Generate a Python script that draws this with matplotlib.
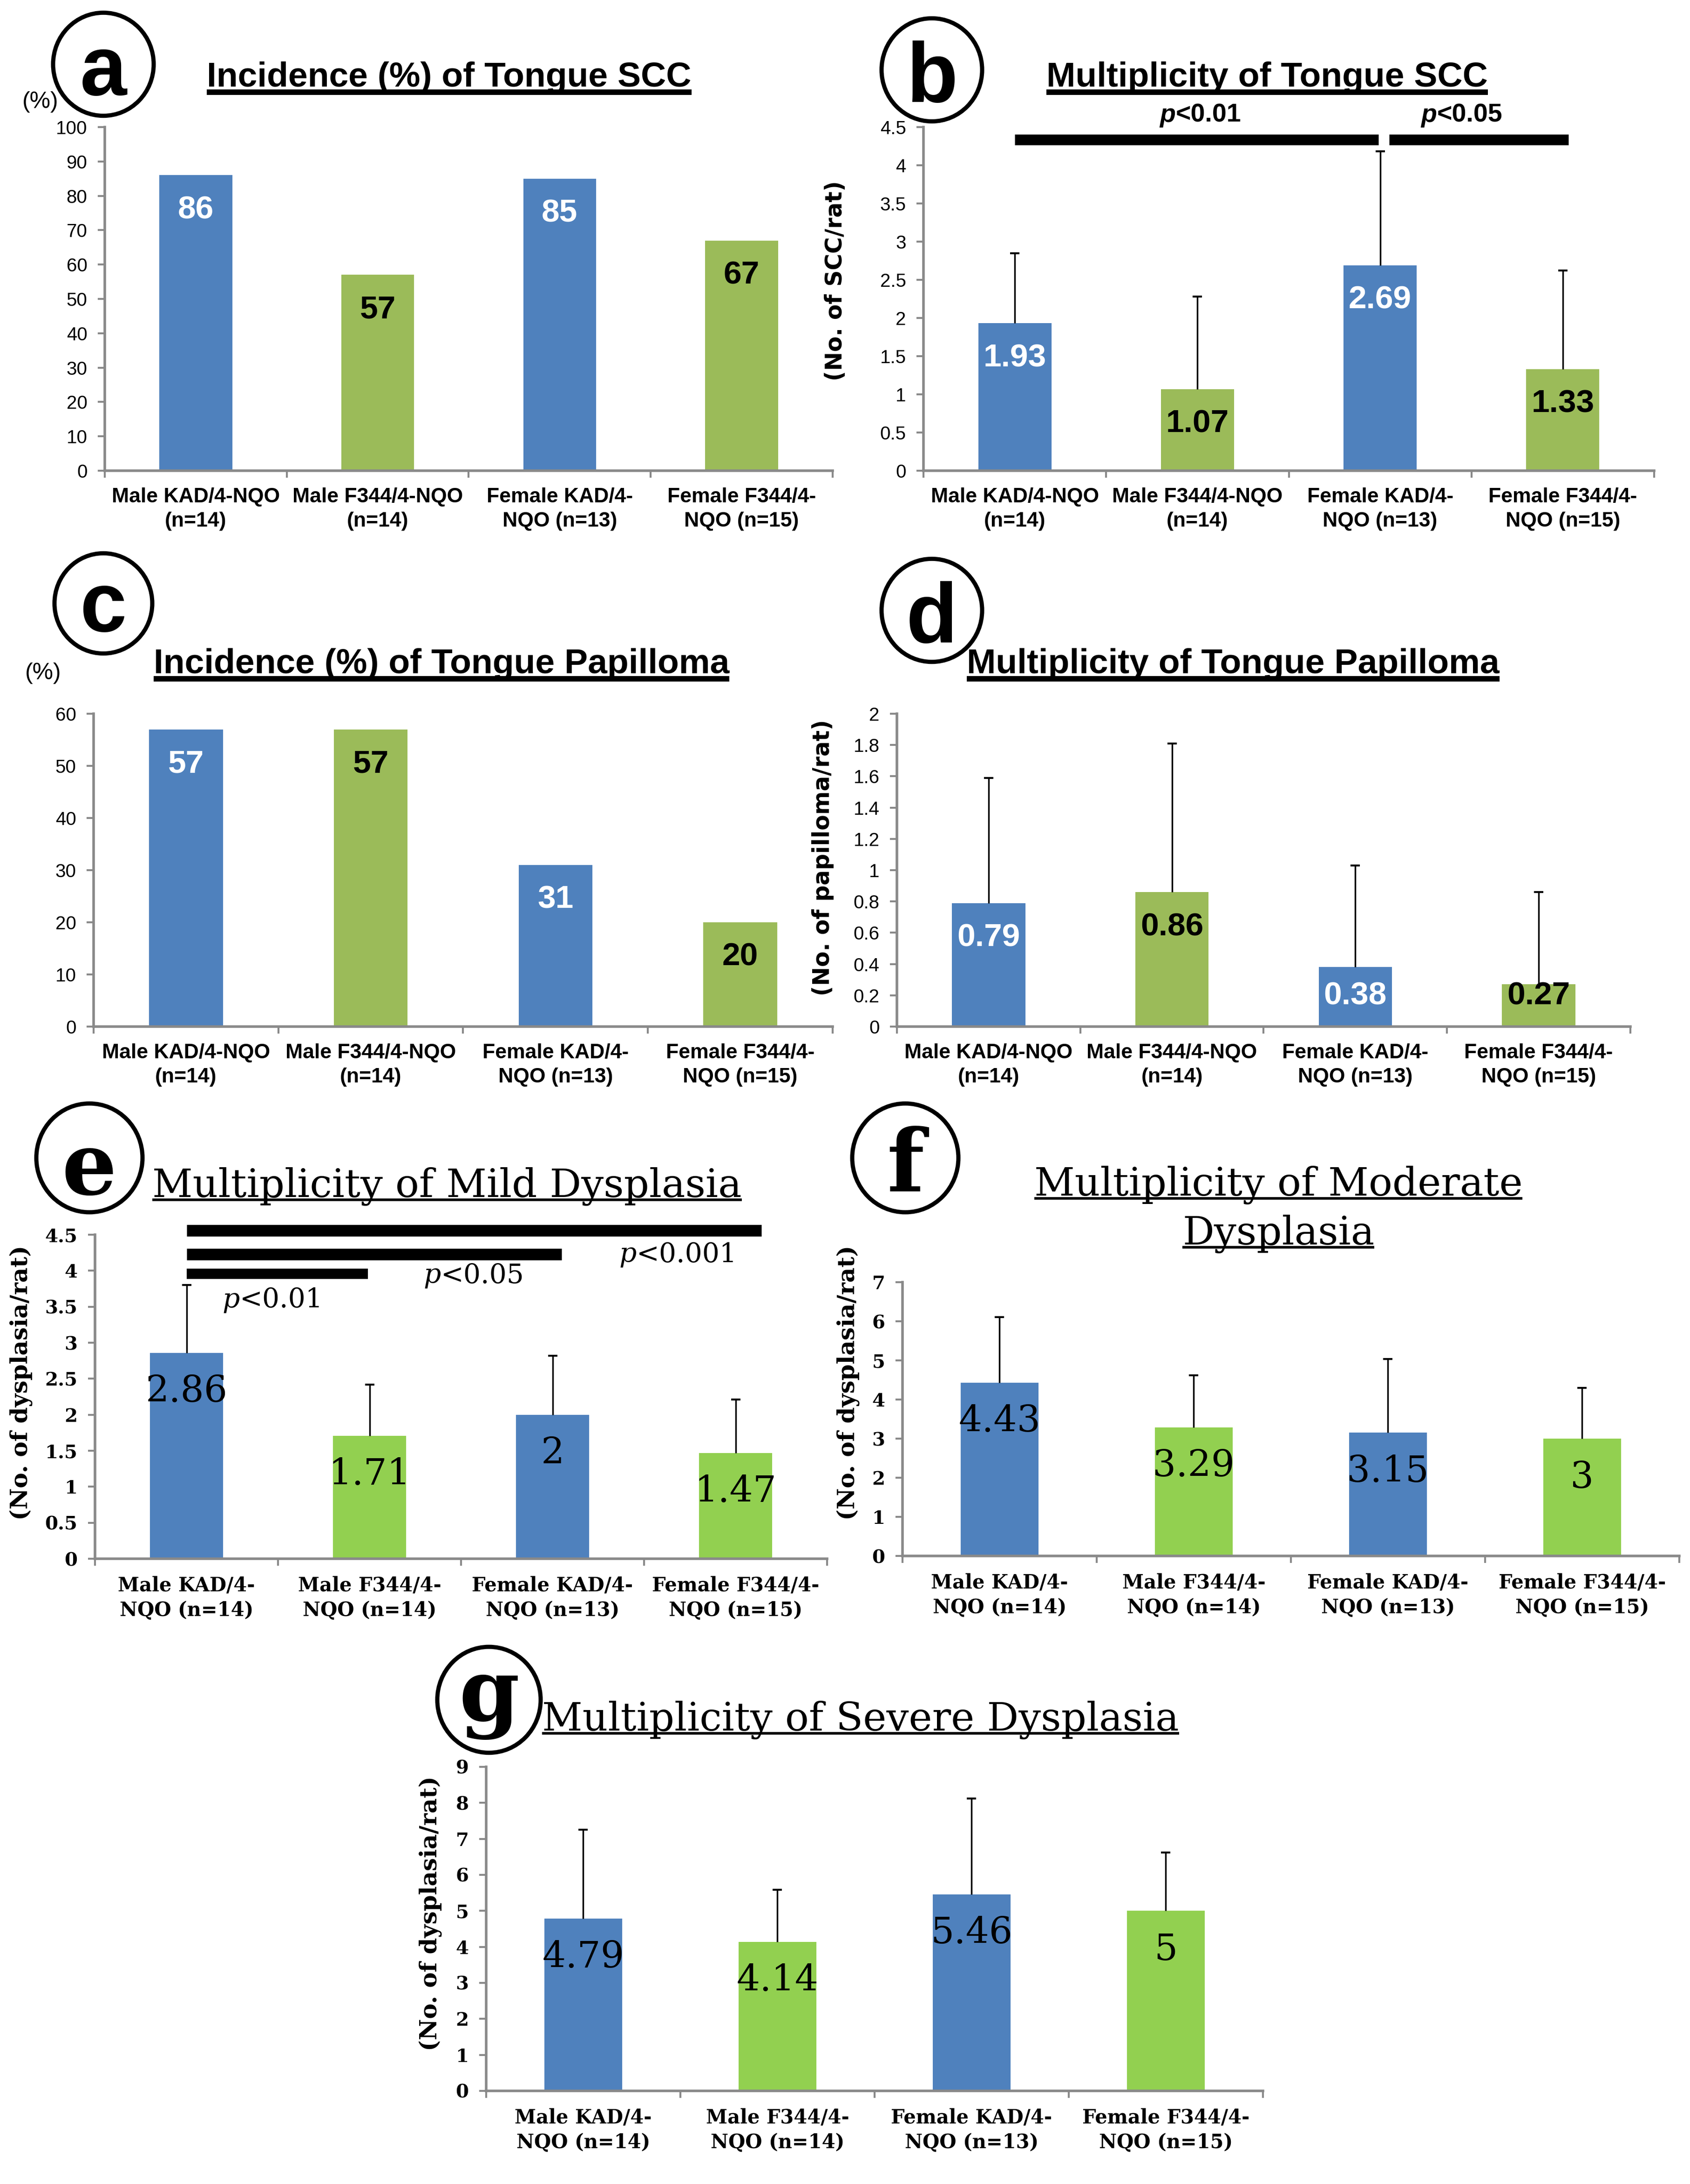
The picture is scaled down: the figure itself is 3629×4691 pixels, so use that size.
import numpy as np
import matplotlib
matplotlib.use('Agg')
import matplotlib.pyplot as plt
from matplotlib.patches import Ellipse

# groups on the x axis
groups = ['Male KAD/4-NQO\n(n=14)', 'Male F344/4-NQO\n(n=14)',
          'Female KAD/4-\nNQO (n=13)', 'Female F344/4-\nNQO (n=15)']
groups_dys = ['Male KAD/4-\nNQO (n=14)', 'Male F344/4-\nNQO (n=14)',
              'Female KAD/4-\nNQO (n=13)', 'Female F344/4-\nNQO (n=15)']

# values
scc_inc = [86, 57, 85, 67]
scc_mult = [1.93, 1.07, 2.69, 1.33]
scc_sd = [0.92, 1.21, 1.49, 1.29]
pap_inc = [57, 57, 31, 20]
pap_mult = [0.79, 0.86, 0.38, 0.27]
pap_sd = [0.80, 0.95, 0.65, 0.59]
mild = [2.86, 1.71, 2, 1.47]
mild_sd = [0.94, 0.71, 0.82, 0.74]
moderate = [4.43, 3.29, 3.15, 3]
moderate_sd = [1.68, 1.33, 1.88, 1.30]
severe = [4.79, 4.14, 5.46, 5]
severe_sd = [2.47, 1.45, 2.66, 1.62]

BLUE = '#4F81BD'
GREEN = '#9BBB59'
GREEN2 = '#92D050'
GRAY = '#898989'
SANS = ['Liberation Sans', 'DejaVu Sans']
SERIF = ['DejaVu Serif']

# layout units: 1/3 of an output pixel
W, H = 1210, 4691 / 3

fig = plt.figure(figsize=(36.3, 46.91), dpi=100)
fig.patch.set_facecolor('white')


def axes_at(l, t, r, b):
    return fig.add_axes([l / W, 1 - b / H, (r - l) / W, (b - t) / H])


def panel(ax, values, sd, ymax, step, labels, serif, txt_colors):
    x = np.arange(len(values))
    fam = SERIF if serif else SANS
    colors = [BLUE, GREEN2 if serif else GREEN] * 2
    ax.bar(x, values, width=0.4, color=colors, zorder=2)
    if sd is not None:
        eb = ax.errorbar(x, values, yerr=[np.zeros(len(sd)), sd], fmt='none',
                         ecolor='black', elinewidth=2.5, capsize=7, capthick=3, zorder=3)
        eb[1][0].set_visible(False)  # no cap at the bar top
    ax.set_xlim(-0.5, 3.5)
    ax.set_ylim(0, ymax)
    ticks = np.arange(0, ymax + step / 2, step)
    ax.set_yticks(ticks)
    ax.set_yticklabels(['{:g}'.format(round(t, 2)) for t in ticks], family=fam,
                       fontsize=29, weight='bold' if serif else 'normal')
    ax.set_xticks(x)
    ax.set_xticklabels(labels, family=fam, fontsize=30 if serif else 32,
                       weight='bold', linespacing=1.35)
    ax.set_xticks(np.arange(-0.5, 4), minor=True)
    ax.tick_params(axis='x', which='major', length=0, pad=26)
    ax.tick_params(axis='x', which='minor', length=11, width=3, color=GRAY)
    ax.tick_params(axis='y', length=11, width=3, color=GRAY, pad=16)
    for s in ['top', 'right']:
        ax.spines[s].set_visible(False)
    for s in ['left', 'bottom']:
        ax.spines[s].set_color(GRAY)
        ax.spines[s].set_linewidth(4)
    ax.patch.set_alpha(0)

    # value labels inside the bars
    ax_h = ax.get_position().height * fig.get_figheight() * 72
    for i, v in enumerate(values):
        off = 60 if serif else 54
        off = min(off, v / ymax * ax_h - 47.5)
        ax.annotate('{:g}'.format(v), xy=(i, v), xytext=(0, -off),
                    textcoords='offset points', ha='center', va='center',
                    family=fam, fontsize=57 if serif else 50,
                    weight='normal' if serif else 'bold', color=txt_colors[i], zorder=4)


def sig_line(ax, x0, x1, y, lw):
    ax.plot([x0, x1], [y, y], color='black', lw=lw, solid_capstyle='butt',
            clip_on=False, zorder=5)


def p_text(ax, x, y, rest, fam, size, weight):
    ax.text(x, y, 'p', family=fam, style='italic', fontsize=size, weight=weight,
            ha='right', va='baseline', clip_on=False)
    ax.text(x, y, rest, family=fam, fontsize=size, weight=weight,
            ha='left', va='baseline', clip_on=False)


def circle_letter(cx, cy, r, letter, baseline, fam):
    fig.add_artist(Ellipse((cx / W, 1 - cy / H), 2 * r / W, 2.05 * r / H,
                           transform=fig.transFigure, fill=False, lw=6.5, ec='black'))
    fig.text(cx / W, 1 - baseline / H, letter, family=fam, weight='bold',
             fontsize=130 if fam == SANS else 134, ha='center', va='baseline')


underlined = []


def title(x, y_line, s, serif, ha='left'):
    fam = SERIF if serif else SANS
    gap = 2 if serif else 4
    t = fig.text(x / W, 1 - (y_line - gap) / H, s, family=fam,
                 fontsize=61 if serif else 54, weight='normal' if serif else 'bold',
                 ha=ha, va='baseline')
    underlined.append((t, y_line, 4 if serif else 8.5))


sans_txt = ['white', 'black', 'white', 'black']
black_txt = ['black'] * 4

# a
ax = axes_at(75, 91, 596, 337)
panel(ax, scc_inc, None, 100, 10, groups, False, sans_txt)
circle_letter(74, 46, 36, 'a', 68, SANS)
title(148, 66, 'Incidence (%) of Tongue SCC', False)
fig.text(29 / W, 1 - 73 / H, '(%)', family=SANS, fontsize=36, ha='center', va='center')

# b
ax = axes_at(661, 91, 1184, 337)
panel(ax, scc_mult, scc_sd, 4.5, 0.5, groups, False, sans_txt)
circle_letter(667, 50, 36, 'b', 73, SANS)
title(749, 66, 'Multiplicity of Tongue SCC', False)
fig.text(598 / W, 1 - 201 / H, '(No. of SCC/rat)', family=['DejaVu Sans'],
         weight='bold', fontsize=35, rotation=90, ha='center', va='center')
sig_line(ax, 0, 1.99, 4.335, 16.5)
sig_line(ax, 2.05, 3.03, 4.335, 16.5)
p_text(ax, 0.88, 4.57, '<0.01', SANS, 40, 'bold')
p_text(ax, 2.31, 4.57, '<0.05', SANS, 40, 'bold')

# c
ax = axes_at(67, 511, 596, 735)
panel(ax, pap_inc, None, 60, 10, groups, False, sans_txt)
circle_letter(74, 432, 35, 'c', 452, SANS)
title(110, 486, 'Incidence (%) of Tongue Papilloma', False)
fig.text(31 / W, 1 - 482 / H, '(%)', family=SANS, fontsize=36, ha='center', va='center')

# d
ax = axes_at(642, 511, 1167, 735)
panel(ax, pap_mult, pap_sd, 2, 0.2, groups, False, sans_txt)
circle_letter(667, 437, 36, 'd', 460, SANS)
title(692, 486, 'Multiplicity of Tongue Papilloma', False)
fig.text(589 / W, 1 - 614 / H, '(No. of papilloma/rat)', family=['DejaVu Sans'],
         weight='bold', fontsize=35, rotation=90, ha='center', va='center')

# e
ax = axes_at(68, 884, 592, 1116)
panel(ax, mild, mild_sd, 4.5, 0.5, groups_dys, True, black_txt)
circle_letter(64, 829, 38, 'e', 855, SERIF)
title(109, 859, 'Multiplicity of Mild Dysplasia', True)
fig.text(15 / W, 1 - 990 / H, '(No. of dysplasia/rat)', family=SERIF,
         weight='bold', fontsize=36, rotation=90, ha='center', va='center')
sig_line(ax, 0, 3.14, 4.56, 18)
sig_line(ax, 0, 2.05, 4.23, 18)
sig_line(ax, 0, 0.99, 3.96, 16)
p_text(ax, 0.29, 3.49, '<0.01', SERIF, 42, 'normal')
p_text(ax, 1.39, 3.83, '<0.05', SERIF, 42, 'normal')
p_text(ax, 2.46, 4.12, '<0.001', SERIF, 42, 'normal')

# f
ax = axes_at(646, 918, 1202, 1114)
panel(ax, moderate, moderate_sd, 7, 1, groups_dys, True, black_txt)
circle_letter(648, 829, 38, 'f', 853, SERIF)
title(915, 858, 'Multiplicity of Moderate', True, ha='center')
title(915, 893, 'Dysplasia', True, ha='center')
fig.text(607 / W, 1 - 990 / H, '(No. of dysplasia/rat)', family=SERIF,
         weight='bold', fontsize=36, rotation=90, ha='center', va='center')

# g
ax = axes_at(348, 1265, 904, 1497)
panel(ax, severe, severe_sd, 9, 1, groups_dys, True, black_txt)
circle_letter(350, 1217, 37, 'g', 1232, SERIF)
title(388, 1241, 'Multiplicity of Severe Dysplasia', True)
fig.text(308 / W, 1 - 1370 / H, '(No. of dysplasia/rat)', family=SERIF,
         weight='bold', fontsize=36, rotation=90, ha='center', va='center')

# underline the titles
fig.canvas.draw()
renderer = fig.canvas.get_renderer()
for t, y_line, lw in underlined:
    bb = t.get_window_extent(renderer)
    x0 = bb.x0 / fig.bbox.width
    x1 = bb.x1 / fig.bbox.width
    y = 1 - y_line / H
    fig.add_artist(plt.Line2D([x0, x1], [y, y], color='black', lw=lw,
                              transform=fig.transFigure, solid_capstyle='butt'))

fig.savefig('out.png', dpi=100, facecolor='white')
